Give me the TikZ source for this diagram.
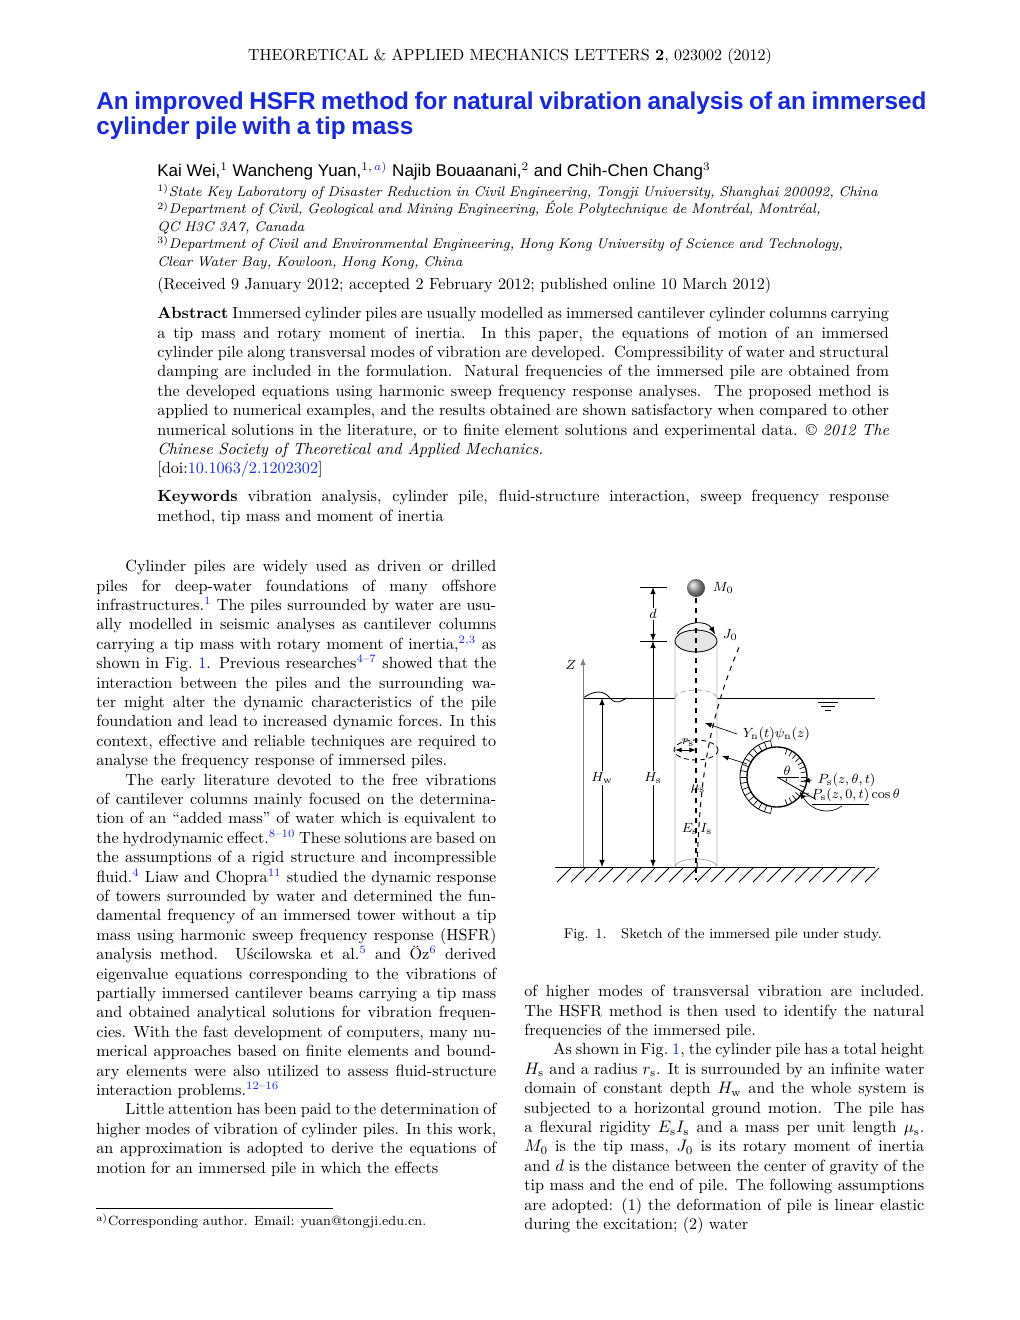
\documentclass[tikz,border=0pt]{standalone}
\usepackage{fontspec}
\usepackage{amsmath}
\usetikzlibrary{calc}
\newfontfamily\titlefont{Liberation Sans}
\definecolor{linkblue}{RGB}{20,40,230}
\newcommand{\cit}[1]{\textsuperscript{\color{linkblue}#1}}
\newcommand{\lk}[1]{{\color{linkblue}#1}}
\tikzset{
  body/.style={anchor=north west,inner sep=0pt,align=justify,font=\fontsize{9.7}{11.64}\selectfont},
  affil/.style={anchor=north west,inner sep=0pt,align=left,text width=448pt,font=\fontsize{8.4}{10.45}\selectfont\itshape},
  pileline/.style={draw=gray!60,line width=0.5pt},
  dimarrow/.style={<->,>=latex,line width=0.5pt},
  fig/.style={font=\fontsize{8}{9}\selectfont}
}
\begin{document}
\begin{tikzpicture}[x=0.6pt,y=-0.6pt]
\useasboundingbox (0,0) rectangle (1020,1320);
% header and title
\node (head) at (510,56) {\fontsize{9.6}{11}\selectfont THEORETICAL \& APPLIED MECHANICS LETTERS \textbf{2}, 023002 (2012)};
\node[anchor=north west,inner sep=0pt,align=left,text width=520pt] (title) at (96,92)
  {\titlefont\bfseries\fontsize{14.6}{18}\selectfont\color{linkblue}An improved HSFR method for natural vibration analysis of an immersed cylinder pile with a tip mass};
\node[anchor=west,inner sep=0pt] (authors) at (157,171)
  {\titlefont\fontsize{10.2}{12}\selectfont Kai Wei,$^1$ Wancheng Yuan,$^{1,\,{\color{linkblue}a)}}$ Najib Bouaanani,$^2$ and Chih-Chen Chang$^3$};
\node[affil] (aff) at (157,184)
  {\textsuperscript{\upshape 1)}State Key Laboratory of Disaster Reduction in Civil Engineering, Tongji University, Shanghai 200092, China\\
   \textsuperscript{\upshape 2)}Department of Civil, Geological and Mining Engineering, \'Eole Polytechnique de Montr\'eal, Montr\'eal,\\ QC H3C 3A7, Canada\\
   \textsuperscript{\upshape 3)}Department of Civil and Environmental Engineering, Hong Kong University of Science and Technology,\\ Clear Water Bay, Kowloon, Hong Kong, China};
\node[anchor=west,inner sep=0pt] (recv) at (157,285)
  {\fontsize{9.7}{11.6}\selectfont(Received 9 January 2012; accepted 2 February 2012; published online 10 March 2012)};
\node[body,text width=439pt] (abstract) at (157,307)
  {\textbf{Abstract} Immersed cylinder piles are usually modelled as immersed cantilever cylinder columns carrying a tip mass and rotary moment of inertia.\ \ In this paper, the equations of motion of an immersed cylinder pile along transversal modes of vibration are developed.\ \ Compressibility of water and structural damping are included in the formulation.\ \ Natural frequencies of the immersed pile are obtained from the developed equations using harmonic sweep frequency response analyses.\ \ The proposed method is applied to numerical examples, and the results obtained are shown satisfactory when compared to other numerical solutions in the literature, or to finite element solutions and experimental data. \textcopyright\ \textit{2012 The Chinese Society of Theoretical and Applied Mechanics.}\\
  {[}doi:\lk{10.1063/2.1202302}{]}};
\node[body,text width=439pt] (keys) at (157,490)
  {\textbf{Keywords} vibration analysis, cylinder pile, fluid-structure interaction, sweep frequency response method, tip mass and moment of inertia};
% left column
\node[body,text width=240pt] (left) at (96,560)
  {\hspace*{1.8em}Cylinder piles are widely used as driven or drilled piles for deep-water foundations of many offshore infrastructures.\cit{1} The piles surrounded by water are usually modelled in seismic analyses as cantilever columns carrying a tip mass with rotary moment of inertia,\cit{2,3} as shown in Fig.~\lk{1}. Previous researches\cit{4--7} showed that the interaction between the piles and the surrounding water might alter the dynamic characteristics of the pile foundation and lead to increased dynamic forces. In this context, effective and reliable techniques are required to analyse the frequency response of immersed piles.\par
  \hspace*{1.8em}The early literature devoted to the free vibrations of cantilever columns mainly focused on the determination of an ``added mass'' of water which is equivalent to the hydrodynamic effect.\cit{8--10} These solutions are based on the assumptions of a rigid structure and incompressible fluid.\cit{4} Liaw and Chopra\cit{11} studied the dynamic response of towers surrounded by water and determined the fundamental frequency of an immersed tower without a tip mass using harmonic sweep frequency response (HSFR) analysis method.\ \ U\'scilowska et al.\cit{5} and \"Oz\cit{6} derived eigenvalue equations corresponding to the vibrations of partially immersed cantilever beams carrying a tip mass and obtained analytical solutions for vibration frequencies. With the fast development of computers, many numerical approaches based on finite elements and boundary elements were also utilized to assess fluid-structure interaction problems.\cit{12--16}\par
  \hspace*{1.8em}Little attention has been paid to the determination of higher modes of vibration of cylinder piles. In this work, an approximation is adopted to derive the equations of motion for an immersed pile in which the effects};
% footnote
\draw[line width=0.4pt] (96,1208) -- (333,1208);
\node[anchor=west,inner sep=0pt] (foot) at (96,1221)
  {\fontsize{8}{9.5}\selectfont\textsuperscript{a)}Corresponding author. Email: yuan@tongji.edu.cn.};
% right column
\node[body,text width=240pt] (right) at (524,985)
  {of higher modes of transversal vibration are included. The HSFR method is then used to identify the natural frequencies of the immersed pile.\par
  \hspace*{1.8em}As shown in Fig.~\lk{1}, the cylinder pile has a total height $H_{\mathrm{s}}$ and a radius $r_{\mathrm{s}}$. It is surrounded by an infinite water domain of constant depth $H_{\mathrm{w}}$ and the whole system is subjected to a horizontal ground motion. The pile has a flexural rigidity $E_{\mathrm{s}}I_{\mathrm{s}}$ and a mass per unit length $\mu_{\mathrm{s}}$.\ \ $M_0$ is the tip mass, $J_0$ is its rotary moment of inertia and $d$ is the distance between the center of gravity of the tip mass and the end of pile. The following assumptions are adopted: (1) the deformation of pile is linear elastic during the excitation; (2) water};
% figure
\foreach \x in {557,571,...,865}
  \draw[line width=0.5pt] (\x,882) -- (\x+14,868);
\draw[line width=0.6pt] (555,867) -- (875,867);
\draw[line width=0.6pt] (717,698) -- (875,698);
\draw[line width=0.6pt] (583,698) -- (675,698);
\draw[line width=0.5pt] (583,698) .. controls (595,690) and (603,690) .. (610,698) .. controls (617,706) and (622,700) .. (627,698);
\draw[pileline] (675,641) -- (675,867) arc (180:360:21 and 8) -- (717,641);
\draw[pileline,densely dashed] (675,698) arc (180:360:21 and 8);
\draw[line width=0.5pt,fill=gray!20] (696,641) ellipse (21 and 11);
\draw[line width=1pt,dashed] (696,598) -- (696,880);
\shade[ball color=gray!70] (696,588) circle (9);
\node[fig,anchor=west] (m0) at (707,588) {$M_0$};
\draw[->,>=latex,line width=0.5pt] (677,634) .. controls (685,620) and (707,620) .. (715,634);
\node[fig,anchor=west] (j0) at (717,635) {$J_0$};
\draw[line width=0.6pt,dashed] (697,867) .. controls (700,780) and (708,720) .. (740,645);
\draw[line width=0.5pt,densely dashed] (696,750) ellipse (22 and 10);
\draw[<->,>=latex,line width=0.4pt] (675,750) -- (696,750);
\node[fig] (rs) at (688,743) {$r_{\mathrm{s}}$};
\node[fig] (mus) at (698,789) {$\mu_{\mathrm{s}}$};
\node[fig] (ei) at (697,829) {$E_{\mathrm{s}}\,I_{\mathrm{s}}$};
\node[fig,anchor=west] (yn) at (737,734) {$Y_{\mathrm{n}}(t)\psi_{\mathrm{n}}(z)$};
\draw[->,>=latex,line width=0.4pt] (yn.west) -- (705,723);
% dimensions
\draw[line width=0.4pt] (640,587) -- (667,587) (640,641) -- (667,641);
\draw[dimarrow] (653,587) -- (653,641);
\draw[dimarrow] (653,641) -- (653,867);
\draw[dimarrow] (602,698) -- (602,867);
\node[fig,fill=white,inner sep=1pt] (d) at (653,614) {$d$};
\node[fig,fill=white,inner sep=1pt] (hs) at (653,778) {$H_{\mathrm{s}}$};
\node[fig,fill=white,inner sep=1pt] (hw) at (602,778) {$H_{\mathrm{w}}$};
\draw[->,>=latex,line width=0.5pt,draw=gray] (583,867) -- (583,658);
\node[fig] (zax) at (571,665) {$Z$};
% water level mark
\draw[line width=0.5pt] (818,702) -- (838,702) (821,706) -- (835,706) (825,710) -- (831,710);
% cross-section
\coordinate (c) at (777,777);
\foreach \a in {100,110,...,260}
  \draw[line width=0.4pt] ($(c)+(\a:30)$) -- ($(c)+(\a:37)$);
\foreach \a in {-70,-60,...,70}
  \draw[line width=0.4pt] ($(c)+(\a:30)$) -- ($(c)+(\a:24)$);
\draw[line width=0.8pt] (c) circle (30);
\draw[line width=0.5pt] (c) ++(100:37) arc (100:260:37 and 37);
\draw[line width=0.5pt] (c) -- ++(22,0);
\draw[line width=0.5pt] (c) -- ++(30:45);
\draw[line width=0.4pt] ($(c)+(10,0)$) arc (0:30:10);
\node[fig] (th) at (787,771) {$\theta$};
\draw[->,>=latex,line width=0.4pt] (747,764) -- (722,756);
\node[fig,anchor=west] (ps) at (812,780) {$P_{\mathrm{s}}(z,\theta,t)$};
\draw[->,>=latex,line width=0.4pt] (ps.west) -- (803,781);
\node[fig,anchor=west,inner sep=1pt] (ps0) at (797,797) {$=\!\underline{P_{\mathrm{s}}(z,0,t)}\cos\theta$};
\draw[->,>=latex,line width=0.4pt] (842,806) .. controls (830,815) and (812,812) .. (800,792);
\node[fig,anchor=west] (cap) at (558,935) {\fontsize{8.5}{10}\selectfont Fig. 1.\ \ \ Sketch of the immersed pile under study.};
\end{tikzpicture}
\end{document}
